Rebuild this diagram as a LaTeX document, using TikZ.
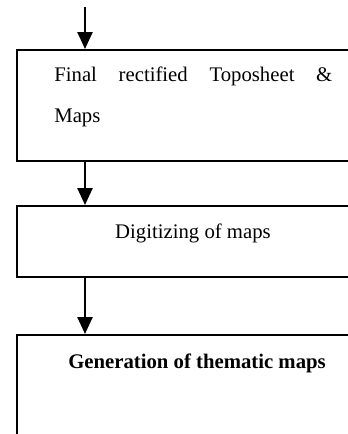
\documentclass[tikz,border=0pt]{standalone}
\usepackage{fontspec}
\setmainfont{Liberation Serif}
\usetikzlibrary{arrows.meta}
\usetikzlibrary{positioning}
\tikzset{
  stepbox/.style={draw,line width=0.4mm,minimum width=7.08cm,inner sep=0pt,anchor=north west},
  flow/.style={-{Triangle[length=3.4mm,width=3mm]},line width=0.5mm},
  steptext/.style={inner sep=0pt,font=\fontsize{11.8}{23.2}\selectfont},
}

\begin{document}
\begin{tikzpicture}
		  \useasboundingbox (0,0) rectangle (6.96,-8.68);
		  \clip (0,0) rectangle (6.96,-8.68);
		  %BOXES
		  \node[stepbox,minimum height=2.22cm] (b1) at (0.32,-0.98) {};
		  \node[stepbox,minimum height=1.42cm] (b2) at (0.32,-4.1) {};
		  \node[stepbox,minimum height=2.4cm] (b3) at (0.32,-6.68) {};
		  %TEXTS
		  \node[steptext,anchor=north west,text width=5.56cm,align=justify] (t1) at (1.08,-1.34) {Final rectified Toposheet \&\linebreak Maps};
		  \node[steptext,anchor=base] (t2) at (3.86,-4.76) {Digitizing of maps};
		  \node[steptext,anchor=base,font=\fontsize{11.8}{14}\selectfont\bfseries] (t3) at (3.94,-7.36) {Generation of thematic maps};
		  %ARROWS
		  \coordinate (top) at (1.7,-0.14);
		  \draw[flow] (top) -- (top |- b1.north);
		  \draw[flow] (b1.south -| top) -- (b2.north -| top);
		  \draw[flow] (b2.south -| top) -- (b3.north -| top);
\end{tikzpicture}
\end{document}
